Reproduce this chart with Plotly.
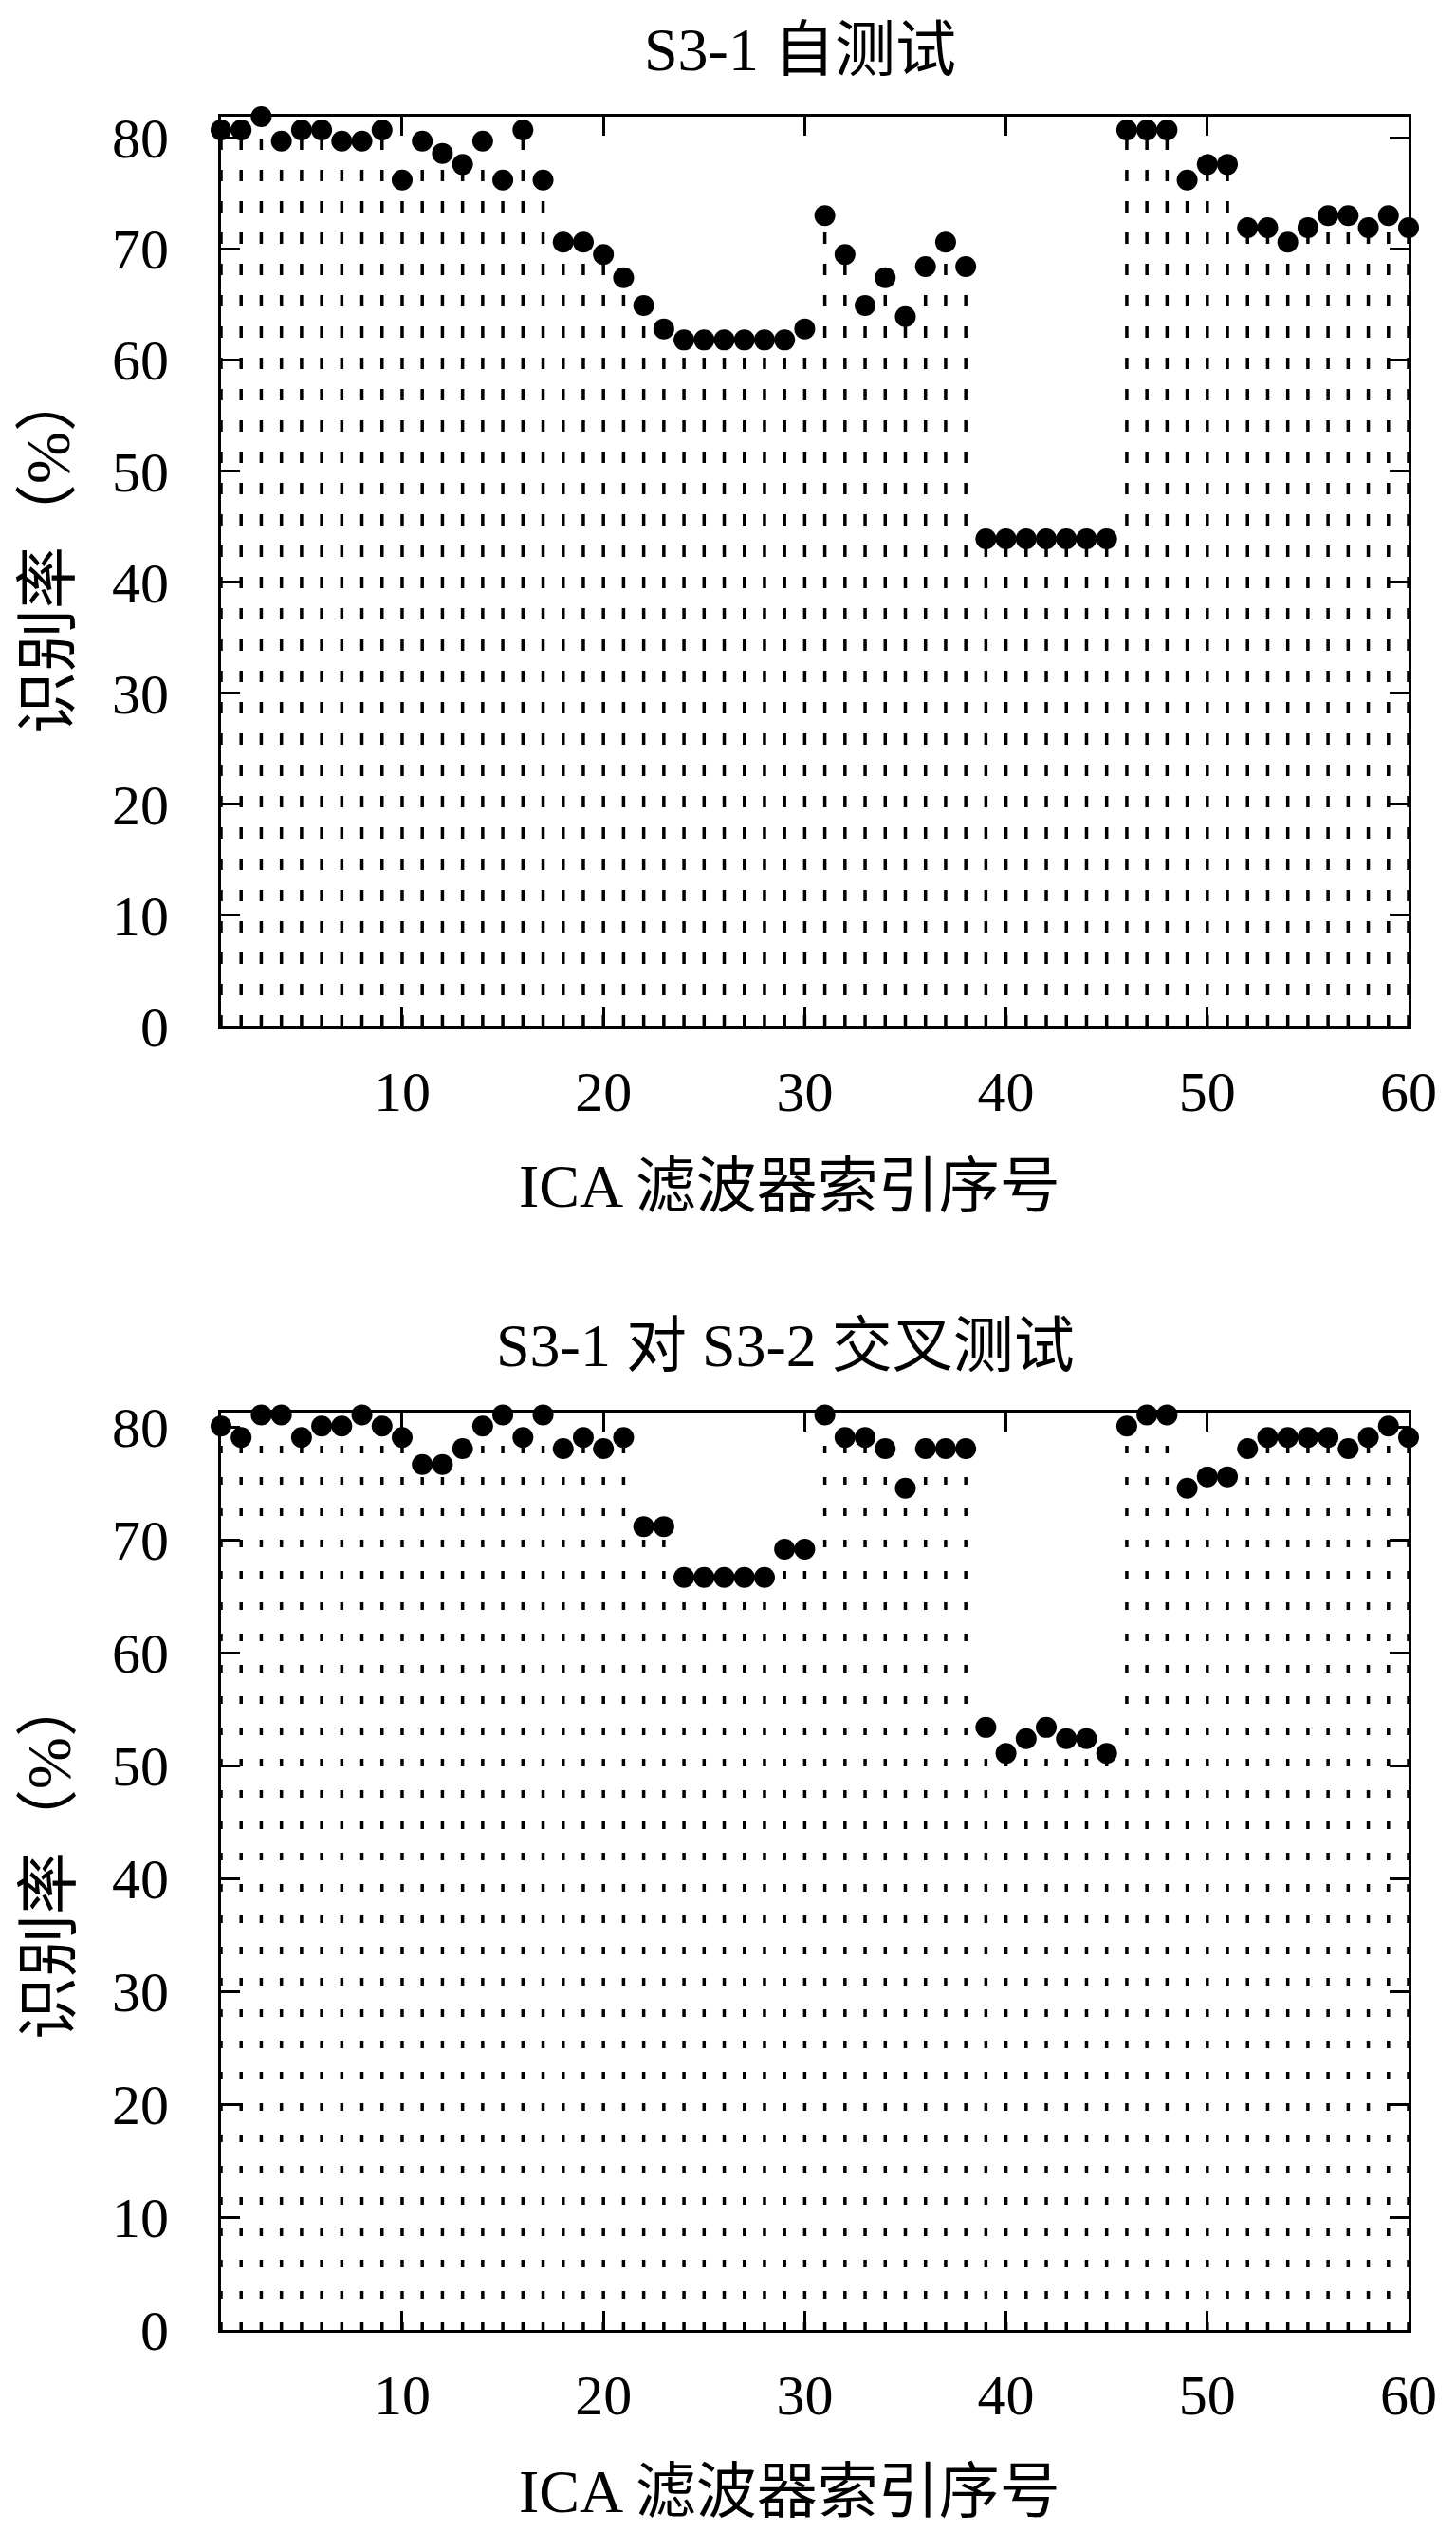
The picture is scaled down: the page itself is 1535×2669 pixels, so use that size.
import plotly.graph_objects as go

# ---------------- data ----------------
filter_idx = list(range(1, 61))

self_test = [80.7, 80.7, 81.9, 79.7, 80.7, 80.7, 79.7, 79.7, 80.7, 76.2,
             79.7, 78.6, 77.6, 79.7, 76.2, 80.7, 76.2, 70.6, 70.6, 69.5,
             67.4, 64.9, 62.8, 61.8, 61.8, 61.8, 61.8, 61.8, 61.8, 62.8,
             73.0, 69.5, 64.9, 67.4, 63.9, 68.4, 70.6, 68.4, 43.9, 43.9,
             43.9, 43.9, 43.9, 43.9, 43.9, 80.7, 80.7, 80.7, 76.2, 77.6,
             77.6, 71.9, 71.9, 70.6, 71.9, 73.0, 73.0, 71.9, 73.0, 71.9]

cross_test = [80.1, 79.1, 81.1, 81.1, 79.1, 80.1, 80.1, 81.1, 80.1, 79.1,
              76.7, 76.7, 78.1, 80.1, 81.1, 79.1, 81.1, 78.1, 79.1, 78.1,
              79.1, 71.2, 71.2, 66.7, 66.7, 66.7, 66.7, 66.7, 69.2, 69.2,
              81.1, 79.1, 79.1, 78.1, 74.6, 78.1, 78.1, 78.1, 53.4, 51.1,
              52.4, 53.4, 52.4, 52.4, 51.1, 80.1, 81.1, 81.1, 74.6, 75.6,
              75.6, 78.1, 79.1, 79.1, 79.1, 79.1, 78.1, 79.1, 80.1, 79.1]

x_ticks = [10, 20, 30, 40, 50, 60]
y_ticks = [0, 10, 20, 30, 40, 50, 60, 70, 80]

titles = ["S3-1 自测试", "S3-1 对 S3-2 交叉测试"]
x_title = "ICA 滤波器索引序号"
y_title = "识别率（%）"

# ---------------- layout geometry (pixels) ----------------
W, H = 1535, 2669
X0, X1 = 233, 1485
panels = [
    dict(top=123, bottom=1082, ymax=81.9, dash="12px,21px",
         title_y=52, title_x=843, xt_y=1250, yt_y=582),
    dict(top=1489, bottom=2456, ymax=81.3, dash="8px,25px",
         title_y=1418, title_x=828, xt_y=2626, yt_y=1958),
]

SERIF = "Liberation Serif, Times New Roman, Noto Sans CJK SC, serif"

fig = go.Figure()

series = [self_test, cross_test]
for k, (vals, p) in enumerate(zip(series, panels)):
    xa = "x" if k == 0 else "x2"
    ya = "y" if k == 0 else "y2"
    # dotted stems from 0 up to the value
    for xi, v in zip(filter_idx, vals):
        fig.add_trace(go.Scatter(
            x=[xi, xi], y=[0, v], mode="lines",
            line=dict(color="black", width=3.5, dash=p["dash"]),
            xaxis=xa, yaxis=ya, hoverinfo="skip", showlegend=False))
    fig.add_trace(go.Scatter(
        x=filter_idx, y=vals, mode="markers",
        marker=dict(color="black", size=22, symbol="circle"),
        cliponaxis=False, xaxis=xa, yaxis=ya, showlegend=False))


def px_to_paper_y(py):
    return 1 - py / H


axis_common = dict(
    showline=True, linecolor="black", linewidth=3, mirror="ticks",
    ticks="inside", ticklen=20, tickwidth=3, tickcolor="black",
    showgrid=False, zeroline=False, automargin=False,
    tickfont=dict(family=SERIF, size=60, color="black"),
)

layout = dict(
    width=W, height=H, autosize=False,
    margin=dict(l=0, r=0, t=0, b=0, pad=0),
    paper_bgcolor="white", plot_bgcolor="white",
    showlegend=False,
    annotations=[],
)

for k, p in enumerate(panels):
    sfx = "" if k == 0 else "2"
    layout["xaxis" + sfx] = dict(
        axis_common,
        domain=[X0 / W, X1 / W],
        range=[1, 60],
        tickvals=x_ticks,
        ticklabelstandoff=14,
        anchor="y" + sfx,
    )
    layout["yaxis" + sfx] = dict(
        axis_common,
        domain=[px_to_paper_y(p["bottom"]), px_to_paper_y(p["top"])],
        range=[0, p["ymax"]],
        tickvals=y_ticks,
        ticklabelstandoff=40,
        anchor="x" + sfx,
    )
    layout["annotations"] += [
        dict(text=titles[k], x=p["title_x"] / W, y=px_to_paper_y(p["title_y"]),
             xref="paper", yref="paper", showarrow=False,
             xanchor="center", yanchor="middle",
             font=dict(family=SERIF, size=64, color="black")),
        dict(text=x_title, x=832 / W, y=px_to_paper_y(p["xt_y"]),
             xref="paper", yref="paper", showarrow=False,
             xanchor="center", yanchor="middle",
             font=dict(family=SERIF, size=64, color="black")),
        dict(text=y_title, x=51 / W, y=px_to_paper_y(p["yt_y"]),
             xref="paper", yref="paper", showarrow=False, textangle=-90,
             xanchor="center", yanchor="middle",
             font=dict(family=SERIF, size=66, color="black")),
    ]

fig.update_layout(**layout)
fig.write_html(
    "out.html",
    config={"responsive": False, "displayModeBar": False},
    post_script="document.body.style.margin='0';document.body.style.overflow='hidden';",
)
